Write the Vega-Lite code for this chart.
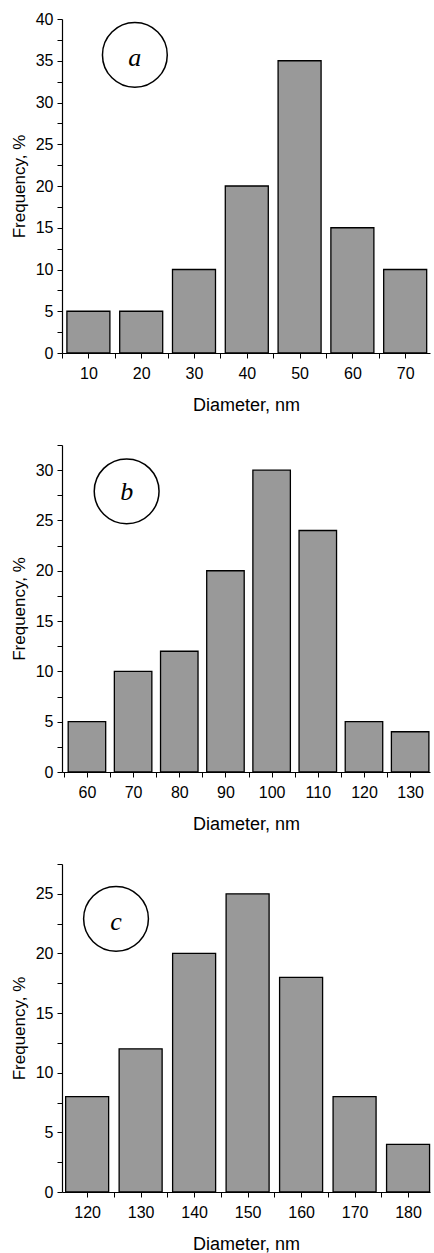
{
  "$schema": "https://vega.github.io/schema/vega-lite/v6.json",
  "padding": {"left": 10, "top": 11, "right": 2, "bottom": 3},
  "spacing": 23,
  "datasets": {
    "a": [
      {"d": 10, "f": 5}, {"d": 20, "f": 5}, {"d": 30, "f": 10}, {"d": 40, "f": 20},
      {"d": 50, "f": 35}, {"d": 60, "f": 15}, {"d": 70, "f": 10}
    ],
    "b": [
      {"d": 60, "f": 5}, {"d": 70, "f": 10}, {"d": 80, "f": 12}, {"d": 90, "f": 20},
      {"d": 100, "f": 30}, {"d": 110, "f": 24}, {"d": 120, "f": 5}, {"d": 130, "f": 4}
    ],
    "c": [
      {"d": 120, "f": 8}, {"d": 130, "f": 12}, {"d": 140, "f": 20}, {"d": 150, "f": 25},
      {"d": 160, "f": 18}, {"d": 170, "f": 8}, {"d": 180, "f": 4}
    ],
    "one": [{}]
  },
  "vconcat": [
    {
      "width": 368, "height": 334,
      "layer": [
        {
          "data": {"name": "a"},
          "mark": {"type": "bar", "width": 43, "fill": "#999999", "stroke": "black", "strokeWidth": 1.3},
          "encoding": {
            "x": {"field": "d", "type": "quantitative", "scale": {"domain": [5, 74.7], "nice": false, "zero": false, "padding": 0},
                  "axis": {"title": "Diameter, nm", "format": "d", "values": [5,10,15,20,25,30,35,40,45,50,55,60,65,70], "labelExpr": "datum.value % 10 == 0 ? datum.label : ''"}},
            "y": {"field": "f", "type": "quantitative", "scale": {"domain": [0, 40], "nice": false, "padding": 0},
                  "axis": {"title": "Frequency, %", "format": "d", "values": [0,2.5,5,7.5,10,12.5,15,17.5,20,22.5,25,27.5,30,32.5,35,37.5,40], "labelExpr": "datum.value % 5 == 0 ? datum.label : ''"}}
          }
        },
        {
          "data": {"name": "one"},
          "mark": {"type": "point", "shape": "circle", "filled": false, "size": 4200, "stroke": "black", "strokeWidth": 1.5, "opacity": 1},
          "encoding": {"x": {"datum": 18.8, "type": "quantitative"}, "y": {"datum": 35.7, "type": "quantitative"}}
        },
        {
          "data": {"name": "one"},
          "mark": {"type": "text", "text": "a", "font": "Liberation Serif", "fontStyle": "italic", "fontSize": 26, "align": "center", "baseline": "middle", "dy": 3, "color": "black"},
          "encoding": {"x": {"datum": 18.8, "type": "quantitative"}, "y": {"datum": 35.7, "type": "quantitative"}}
        }
      ]
    },
    {
      "width": 368, "height": 327,
      "layer": [
        {
          "data": {"name": "b"},
          "mark": {"type": "bar", "width": 37.5, "fill": "#999999", "stroke": "black", "strokeWidth": 1.3},
          "encoding": {
            "x": {"field": "d", "type": "quantitative", "scale": {"domain": [54.6, 134.3], "nice": false, "zero": false, "padding": 0},
                  "axis": {"title": "Diameter, nm", "format": "d", "values": [55,60,65,70,75,80,85,90,95,100,105,110,115,120,125,130], "labelExpr": "datum.value % 10 == 0 ? datum.label : ''"}},
            "y": {"field": "f", "type": "quantitative", "scale": {"domain": [0, 32.5], "nice": false, "padding": 0},
                  "axis": {"title": "Frequency, %", "format": "d", "values": [0,2.5,5,7.5,10,12.5,15,17.5,20,22.5,25,27.5,30,32.5], "labelExpr": "datum.value % 5 == 0 ? datum.label : ''"}}
          }
        },
        {
          "data": {"name": "one"},
          "mark": {"type": "point", "shape": "circle", "filled": false, "size": 4200, "stroke": "black", "strokeWidth": 1.5, "opacity": 1},
          "encoding": {"x": {"datum": 68.6, "type": "quantitative"}, "y": {"datum": 27.9, "type": "quantitative"}}
        },
        {
          "data": {"name": "one"},
          "mark": {"type": "text", "text": "b", "font": "Liberation Serif", "fontStyle": "italic", "fontSize": 26, "align": "center", "baseline": "middle", "dy": 1, "color": "black"},
          "encoding": {"x": {"datum": 68.6, "type": "quantitative"}, "y": {"datum": 27.9, "type": "quantitative"}}
        }
      ]
    },
    {
      "width": 368, "height": 328,
      "layer": [
        {
          "data": {"name": "c"},
          "mark": {"type": "bar", "width": 43, "fill": "#999999", "stroke": "black", "strokeWidth": 1.3},
          "encoding": {
            "x": {"field": "d", "type": "quantitative", "scale": {"domain": [115.3, 184.1], "nice": false, "zero": false, "padding": 0},
                  "axis": {"title": "Diameter, nm", "format": "d", "values": [120,125,130,135,140,145,150,155,160,165,170,175,180], "labelExpr": "datum.value % 10 == 0 ? datum.label : ''"}},
            "y": {"field": "f", "type": "quantitative", "scale": {"domain": [0, 27.5], "nice": false, "padding": 0},
                  "axis": {"title": "Frequency, %", "format": "d", "values": [0,2.5,5,7.5,10,12.5,15,17.5,20,22.5,25,27.5], "labelExpr": "datum.value % 5 == 0 ? datum.label : ''"}}
          }
        },
        {
          "data": {"name": "one"},
          "mark": {"type": "point", "shape": "circle", "filled": false, "size": 4200, "stroke": "black", "strokeWidth": 1.5, "opacity": 1},
          "encoding": {"x": {"datum": 125.4, "type": "quantitative"}, "y": {"datum": 22.9, "type": "quantitative"}}
        },
        {
          "data": {"name": "one"},
          "mark": {"type": "text", "text": "c", "font": "Liberation Serif", "fontStyle": "italic", "fontSize": 26, "align": "center", "baseline": "middle", "dy": 3, "color": "black"},
          "encoding": {"x": {"datum": 125.4, "type": "quantitative"}, "y": {"datum": 22.9, "type": "quantitative"}}
        }
      ]
    }
  ],
  "config": {
    "view": {"stroke": null},
    "axis": {
      "grid": false, "tickCount": 100,
      "domainColor": "black", "domainWidth": 1.2,
      "tickColor": "black", "tickWidth": 1, "tickSize": 5,
      "labelColor": "black", "labelFont": "Liberation Sans", "labelFontSize": 16, "labelPadding": 4,
      "titleColor": "black", "titleFont": "Liberation Sans", "titleFontWeight": "normal",
      "labelFlush": false, "labelOverlap": false
    },
    "axisX": {"titlePadding": 15, "titleFontSize": 18, "labelPadding": 7},
    "axisY": {"titlePadding": 7, "titleFontSize": 17}
  }
}
